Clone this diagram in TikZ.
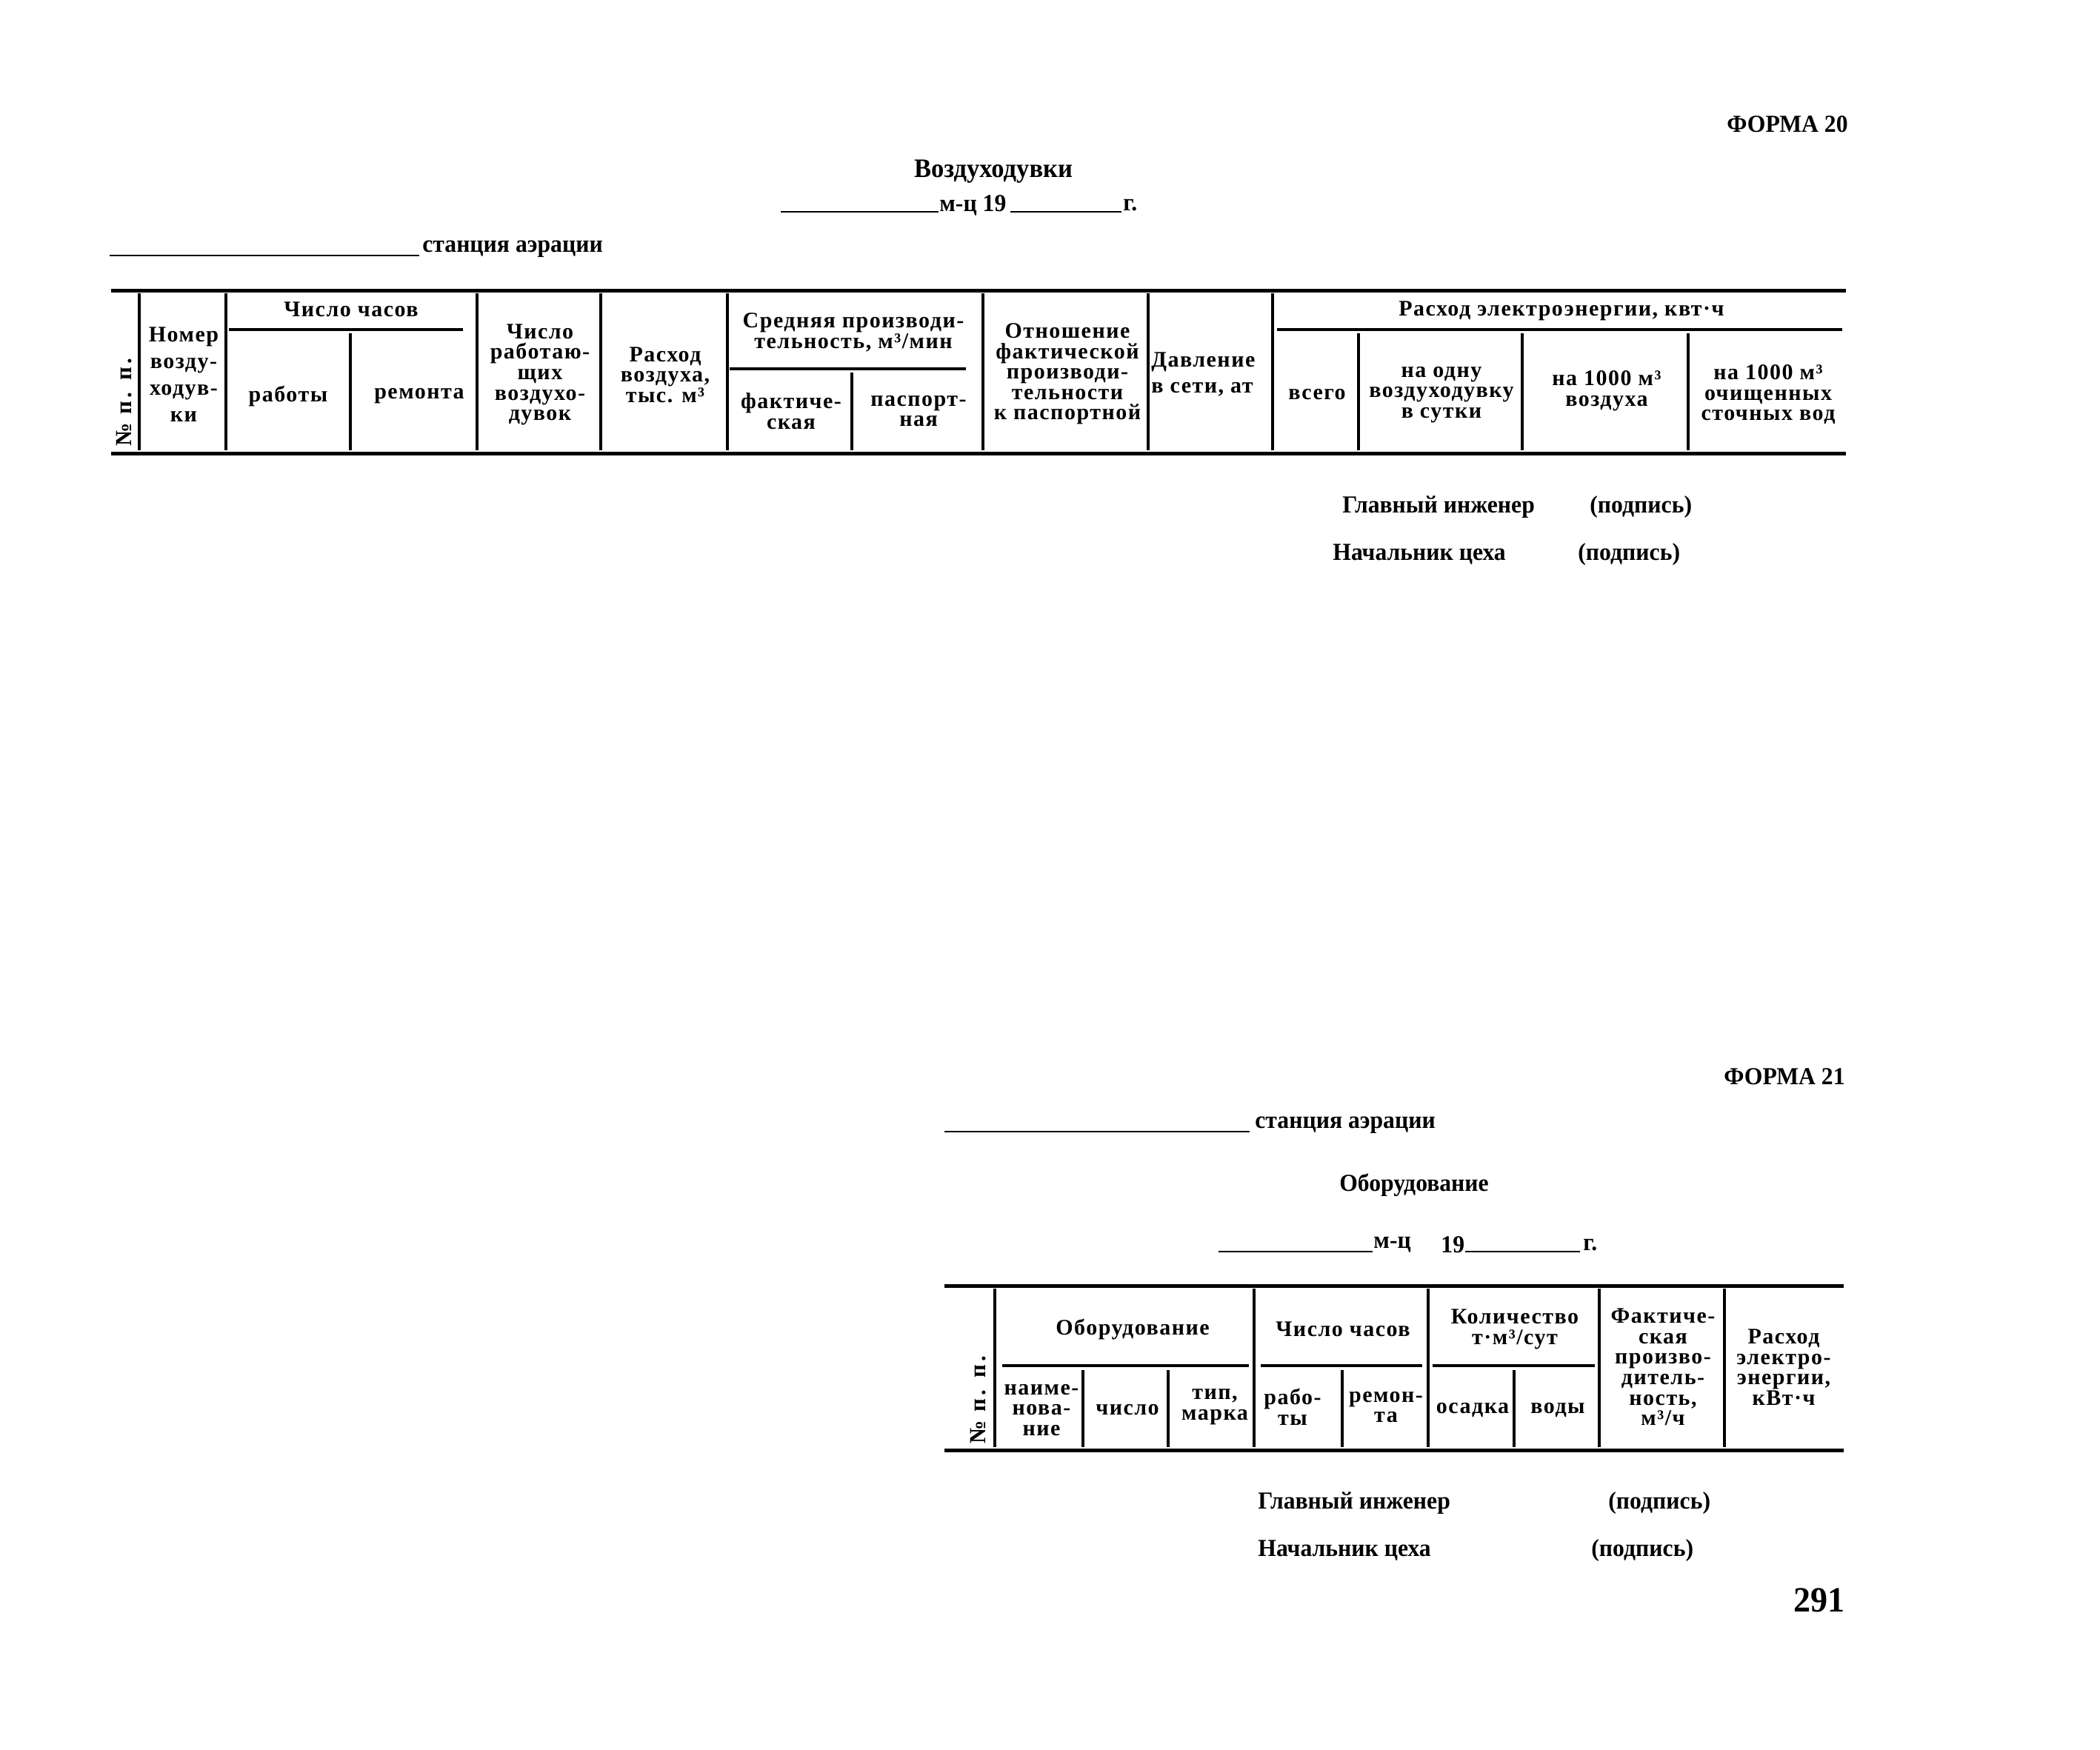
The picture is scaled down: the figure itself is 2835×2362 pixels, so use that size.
\documentclass[tikz,border=0pt]{standalone}
\usepackage{fontspec}
\setmainfont{Liberation Serif}[FakeStretch=0.96]
\newfontfamily\tabfam{Liberation Serif}[FakeStretch=1.0, LetterSpace=5]
\newfontfamily\numfam{Liberation Serif}[FakeStretch=1.0, LetterSpace=14]
\newcommand\thf{\tabfam\fontsize{15}{13.8}\selectfont\bfseries}
\newcommand\sgf{\fontsize{16.5}{18}\selectfont\bfseries}
\tikzset{
  rule/.style={line width=2.5pt},
  vline/.style={line width=1.6pt},
  subrule/.style={line width=2pt},
  blank/.style={line width=1.4pt},
  th/.style={font=\thf, align=center, inner sep=0pt},
  numh/.style={font=\numfam\fontsize{15.5}{16}\selectfont\bfseries, inner sep=0pt, rotate=90},
  sg/.style={font=\sgf, inner sep=0pt, anchor=west},
  ttl/.style={font=\fontsize{16.5}{18}\selectfont\bfseries, inner sep=0pt},
}
\begin{document}
\begin{tikzpicture}[x=0.5pt,y=-0.5pt]
\useasboundingbox (0,0) rectangle (2835,2362);
% ---------------- FORM 20 ----------------
\node[ttl, anchor=east] (f20) at (2495,168) {ФОРМА 20};
\node[ttl, font=\fontsize{18}{20}\selectfont\bfseries] (t20) at (1341,232) {Воздуходувки};
\draw[blank] (1054,286) -- (1267,286);
\node[ttl, anchor=west] (mc20) at (1268,277) {м-ц 19};
\draw[blank] (1364,286) -- (1514,286);
\node[ttl, anchor=west] (g20) at (1516,277) {г.};
\draw[blank] (148,345) -- (566,345);
\node[ttl, anchor=west] (st20) at (570,336) {станция аэрации};
% rules
\draw[rule] (150,392) -- (2492,392);
\draw[rule] (150,612) -- (2492,612);
\foreach \x in {188,305,644,811,982,1327,1550,1718}
  \draw[vline] (\x,396) -- (\x,608);
\foreach \x in {473,1834,2055,2279}
  \draw[vline] (\x,450) -- (\x,608);
\draw[vline] (1150,503) -- (1150,608);
\draw[subrule] (309,445) -- (625,445);
\draw[subrule] (985,498) -- (1304,498);
\draw[subrule] (1724,445) -- (2487,445);
% header texts
\node[numh] (n1) at (168,543) {№ п. п.};
\node[th, font=\tabfam\fontsize{15}{18}\selectfont\bfseries] (nom) at (248,506) {Номер\\возду-\\ходув-\\ки};
\node[th] (chc) at (474,418) {Число часов};
\node[th] (rab) at (389,535) {работы};
\node[th] (rem) at (566,535) {ремонта};
\node[th] (chr) at (729,506) {Число\\работаю-\\щих\\воздухо-\\дувок};
\node[th] (rv) at (898,506) {Расход\\воздуха,\\тыс. м³};
\node[th] (sp) at (1152,449) {Средняя производи-\\тельность, м³/мин};
\node[th] (fk) at (1068,555) {фактиче-\\ская};
\node[th] (ps) at (1240,555) {паспорт-\\ная};
\node[th] (ot) at (1441,505) {Отношение\\фактической\\производи-\\тельности\\к паспортной};
\node[th, align=left, anchor=west, font=\tabfam\fontsize{15}{17.5}\selectfont\bfseries] (dv) at (1554,505) {Давление\\в сети, ат};
\node[th] (re) at (2108,420) {Расход электроэнергии, квт·ч};
\node[th] (vs) at (1778,533) {всего};
\node[th] (no) at (1946,533) {на одну\\воздуходувку\\в сутки};
\node[th] (nv) at (2169,528) {на 1000 м³\\воздуха};
\node[th] (ns) at (2387,533) {на 1000 м³\\очищенных\\сточных вод};
% signatures
\node[sg] (gi1) at (1812,685) {Главный инженер};
\node[sg] (p1) at (2146,685) {(подпись)};
\node[sg] (nc1) at (1799,749) {Начальник цеха};
\node[sg] (p2) at (2130,749) {(подпись)};
% ---------------- FORM 21 ----------------
\node[ttl, anchor=east] (f21) at (2491,1454) {ФОРМА 21};
\draw[blank] (1275,1528) -- (1687,1528);
\node[ttl, anchor=west] (st21) at (1694,1519) {станция аэрации};
\node[ttl] (t21) at (1909,1600) {Оборудование};
\draw[blank] (1645,1690) -- (1853,1690);
\node[ttl, anchor=west] (mc21) at (1854,1681) {м-ц};
\node[ttl, anchor=west] (y21) at (1945,1681) {19};
\draw[blank] (1978,1690) -- (2133,1690);
\node[ttl, anchor=west] (g21) at (2137,1681) {г.};
\draw[rule] (1275,1736) -- (2489,1736);
\draw[rule] (1275,1958) -- (2489,1958);
\foreach \x in {1343,1693,1928,2159,2328}
  \draw[vline] (\x,1740) -- (\x,1954);
\foreach \x in {1462,1577,1812,2044}
  \draw[vline] (\x,1850) -- (\x,1954);
\draw[subrule] (1353,1844) -- (1686,1844);
\draw[subrule] (1702,1844) -- (1920,1844);
\draw[subrule] (1934,1844) -- (2153,1844);
\node[numh] (n2) at (1321,1890) {№ п. п.};
\node[th] (ob) at (1529,1795) {Оборудование};
\node[th] (nm) at (1406,1904) {наиме-\\нова-\\ние};
\node[th] (ch) at (1522,1904) {число};
\node[th] (tp) at (1640,1900) {тип,\\марка};
\node[th] (cc2) at (1813,1795) {Число часов};
\node[th] (rb2) at (1745,1900) {рабо-\\ты};
\node[th] (rm2) at (1871,1900) {ремон-\\та};
\node[th] (kl) at (2045,1795) {Количество\\т·м³/сут};
\node[th] (os) at (1988,1904) {осадка};
\node[th] (vd) at (2103,1904) {воды};
\node[th] (fp) at (2245,1846) {Фактиче-\\ская\\произво-\\дитель-\\ность,\\м³/ч};
\node[th] (re2) at (2408,1846) {Расход\\электро-\\энергии,\\кВт·ч};
\node[sg] (gi2) at (1698,2030) {Главный инженер};
\node[sg] (p3) at (2171,2030) {(подпись)};
\node[sg] (nc2) at (1698,2094) {Начальник цеха};
\node[sg] (p4) at (2148,2094) {(подпись)};
\node[font=\fontsize{24}{26}\selectfont\bfseries, inner sep=0pt, anchor=east] (pg) at (2491,2161) {291};
\end{tikzpicture}
\end{document}
